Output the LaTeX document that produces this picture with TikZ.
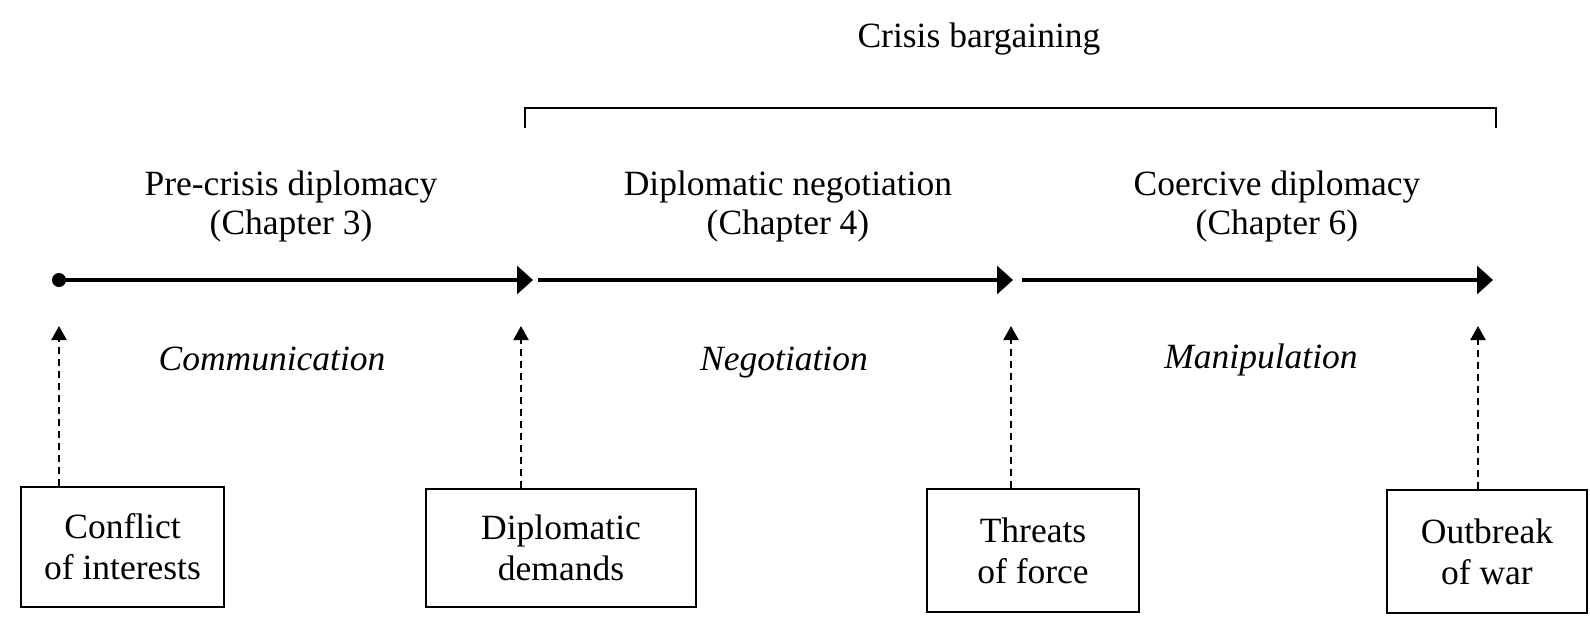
\documentclass[tikz,border=0pt]{standalone}
\usepackage{fontspec}
\setmainfont{Liberation Serif}
\usetikzlibrary{arrows.meta}
\begin{document}
\begin{tikzpicture}[x=1pt,y=-1pt,
  txt/.style={font=\fontsize{35.5}{39}\selectfont, inner sep=0pt},
  heading/.style={txt, align=center},
  mode/.style={inner sep=0pt, font=\fontsize{35.5}{39}\selectfont\itshape, anchor=base},
  eventbox/.style={draw, inner sep=0pt, line width=2pt, align=center, anchor=north west,
    font=\fontsize{35.5}{41}\selectfont},
  timeline/.style={line width=3.2pt, -{Triangle[length=16pt,width=28pt]}},
  trigger/.style={line width=2.1pt, dash pattern=on 7pt off 5pt, -{Triangle[length=14pt,width=15pt]}},
  bracketline/.style={line width=2.4pt}
]
\useasboundingbox (0,0) rectangle (1590,619);

% title and bracket over the crisis phases
\node[txt, anchor=base] (title) at (979,47) {Crisis bargaining};
\coordinate (bl) at (525,128);
\coordinate (br) at (1496,128);
\draw[bracketline] (bl) -- (525,108) -- (1496,108) -- (br);

% phase headings
\node[heading] (h1) at (291,206) {Pre-crisis diplomacy\\(Chapter 3)};
\node[heading] (h2) at (788,206) {Diplomatic negotiation\\(Chapter 4)};
\node[heading] (h3) at (1277,206) {Coercive diplomacy\\(Chapter 6)};

% timeline
\coordinate (p0) at (59,280);
\coordinate (t1) at (533,280);
\coordinate (s2) at (538,280);
\coordinate (t2) at (1013,280);
\coordinate (s3) at (1022,280);
\coordinate (t3) at (1493,280);
\fill (p0) circle (7);
\draw[timeline] (p0) -- (t1);
\draw[timeline] (s2) -- (t2);
\draw[timeline] (s3) -- (t3);

% modes of diplomacy
\node[mode] (m1) at (272,370) {Communication};
\node[mode] (m2) at (784,370) {Negotiation};
\node[mode] (m3) at (1261,368) {Manipulation};

% triggering events
\node[eventbox, minimum width=203pt, minimum height=120pt] (b1) at (20,486) {Conflict\\of interests};
\node[eventbox, minimum width=270pt, minimum height=118pt] (b2) at (425,488) {Diplomatic\\demands};
\node[eventbox, minimum width=212pt, minimum height=123pt] (b3) at (926,488) {Threats\\of force};
\node[eventbox, minimum width=200pt, minimum height=123pt] (b4) at (1386,489) {Outbreak\\of war};

\coordinate (a1) at (59,326);
\coordinate (a2) at (521,326);
\coordinate (a3) at (1011,326);
\coordinate (a4) at (1478,326);
\draw[trigger] (a1 |- b1.north) -- (a1);
\draw[trigger] (a2 |- b2.north) -- (a2);
\draw[trigger] (a3 |- b3.north) -- (a3);
\draw[trigger] (a4 |- b4.north) -- (a4);
\end{tikzpicture}
\end{document}
